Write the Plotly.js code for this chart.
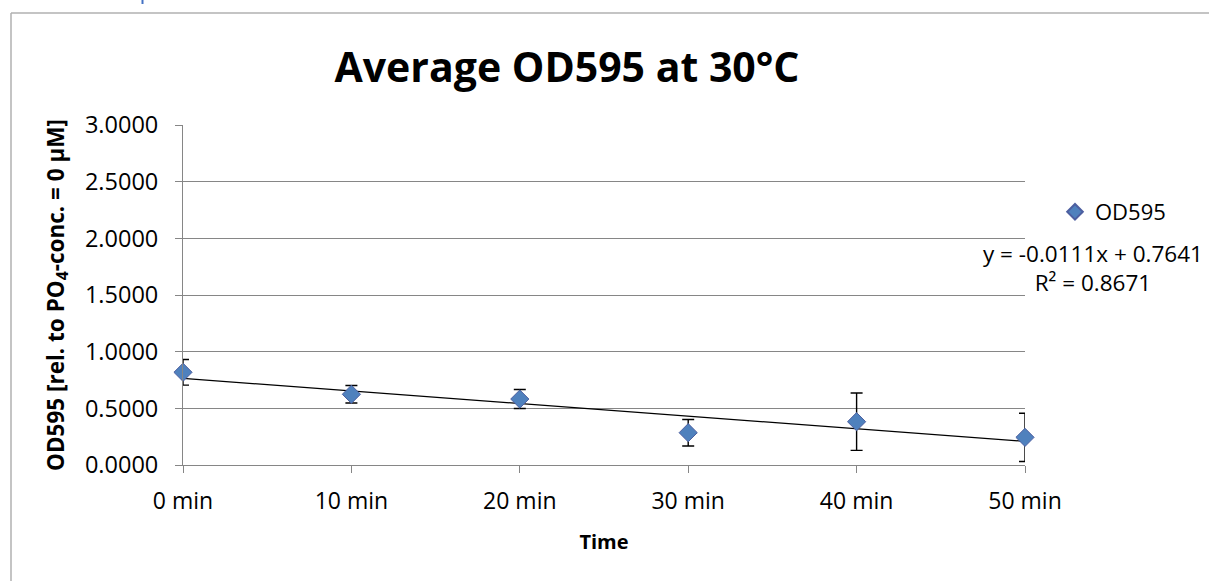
<!DOCTYPE html>
<html>
<head>
<meta charset="utf-8">
<script src="https://cdn.plot.ly/plotly-3.0.1.min.js"></script>
<style>html,body{margin:0;padding:0;background:#fff;}#chart{width:1209px;height:581px;}</style>
</head>
<body>
<div id="chart"></div>
<script>
// ---- data ----
const timesMin = [0, 10, 20, 30, 40, 50];
const timeLabels = ["0 min", "10 min", "20 min", "30 min", "40 min", "50 min"];
const od595 = [0.818, 0.624, 0.582, 0.285, 0.382, 0.244];
const od595Err = [0.113, 0.077, 0.084, 0.117, 0.253, 0.213];
const trendSlope = -0.0111;
const trendIntercept = 0.7641;
const trendLabel = "y = -0.0111x + 0.7641";
const r2Label = "R\u00B2 = 0.8671";
const yTickVals = [0, 0.5, 1, 1.5, 2, 2.5, 3];

// ---- geometry helpers (pixel -> paper) ----
const W = 1209, H = 581;
const L = 183, R = 1025, T = 125, B = 465;
const px = x => (x - L) / (R - L);
const py = y => (B - y) / (B - T);

const trendX = [timesMin[0], timesMin[timesMin.length - 1]];
const trendY = trendX.map(x => trendIntercept + trendSlope * x);

const font = "'Open Sans', 'DejaVu Sans', sans-serif";
const gray = "#868686";

const traces = [
  {
    type: "scatter", mode: "lines", x: trendX, y: trendY,
    line: {color: "#000000", width: 1.3}, showlegend: false, hoverinfo: "skip",
    cliponaxis: false
  },
  {
    type: "scatter", mode: "markers", name: "OD595",
    x: timesMin, y: od595,
    marker: {symbol: "diamond", size: 14, color: "#4f81bd", line: {color: "#4d5fa0", width: 1}},
    error_y: {type: "data", array: od595Err, symmetric: true, color: "#000000", thickness: 1.4, width: 6},
    cliponaxis: false
  }
];

const layout = {
  width: W, height: H,
  margin: {l: L, r: W - R, t: T, b: H - B, pad: 0},
  paper_bgcolor: "#ffffff", plot_bgcolor: "#ffffff",
  font: {family: font, color: "#000000", size: 23},
  title: {
    text: "Average OD595 at 30\u00B0C",
    font: {family: font, size: 41, weight: 700, color: "#000000"},
    xref: "container", x: 567 / W, xanchor: "center",
    yref: "container", y: 1 - 68 / H, yanchor: "middle"
  },
  xaxis: {
    range: [0, 50], tickvals: timesMin, ticktext: timeLabels,
    showgrid: false, zeroline: false,
    showline: true, linecolor: gray, linewidth: 1,
    ticks: "outside", ticklen: 7, tickcolor: gray, tickwidth: 1,
    ticklabelstandoff: 8,
    tickfont: {family: font, size: 23, color: "#000000"},
    title: {text: "Time", font: {family: font, size: 20, weight: 700, color: "#000000"}, standoff: 20}
  },
  yaxis: {
    range: [0, 3], tickvals: yTickVals, tickformat: ".4f",
    showgrid: true, gridcolor: gray, gridwidth: 1, zeroline: false,
    showline: true, linecolor: gray, linewidth: 1,
    ticks: "outside", ticklen: 7, tickcolor: gray, tickwidth: 1,
    ticklabelstandoff: 12,
    tickfont: {family: font, size: 23.5, color: "#000000"},
    title: {text: "OD595 [rel. to PO<sub>4</sub>-conc. = 0 \u00B5M]", font: {family: font, size: 22.5, weight: 700, color: "#000000"}, standoff: 14}
  },
  showlegend: true,
  legend: {
    x: px(1055), xanchor: "left", y: py(212), yanchor: "middle",
    font: {family: font, size: 22, color: "#000000"},
    bgcolor: "rgba(0,0,0,0)", borderwidth: 0, itemwidth: 30, itemsizing: "constant"
  },
  annotations: [
    {xref: "paper", yref: "paper", x: px(1093), y: py(268), text: trendLabel + "<br>" + r2Label, showarrow: false,
     align: "center", xanchor: "center", yanchor: "middle", font: {family: font, size: 22.5, color: "#000000"}}
  ],
  shapes: [
    {type: "line", xref: "paper", yref: "paper", x0: px(11), x1: px(1215), y0: py(13), y1: py(13),
     line: {color: "#b0b0b0", width: 1.5}},
    {type: "line", xref: "paper", yref: "paper", x0: px(11), x1: px(11), y0: py(13), y1: py(600),
     line: {color: "#b0b0b0", width: 1.5}},
    {type: "line", xref: "paper", yref: "paper", x0: px(142.5), x1: px(142.5), y0: py(-1), y1: py(4),
     line: {color: "#4472c4", width: 2}}
  ]
};

Plotly.newPlot("chart", traces, layout, {displayModeBar: false, staticPlot: true});
</script>
</body>
</html>
